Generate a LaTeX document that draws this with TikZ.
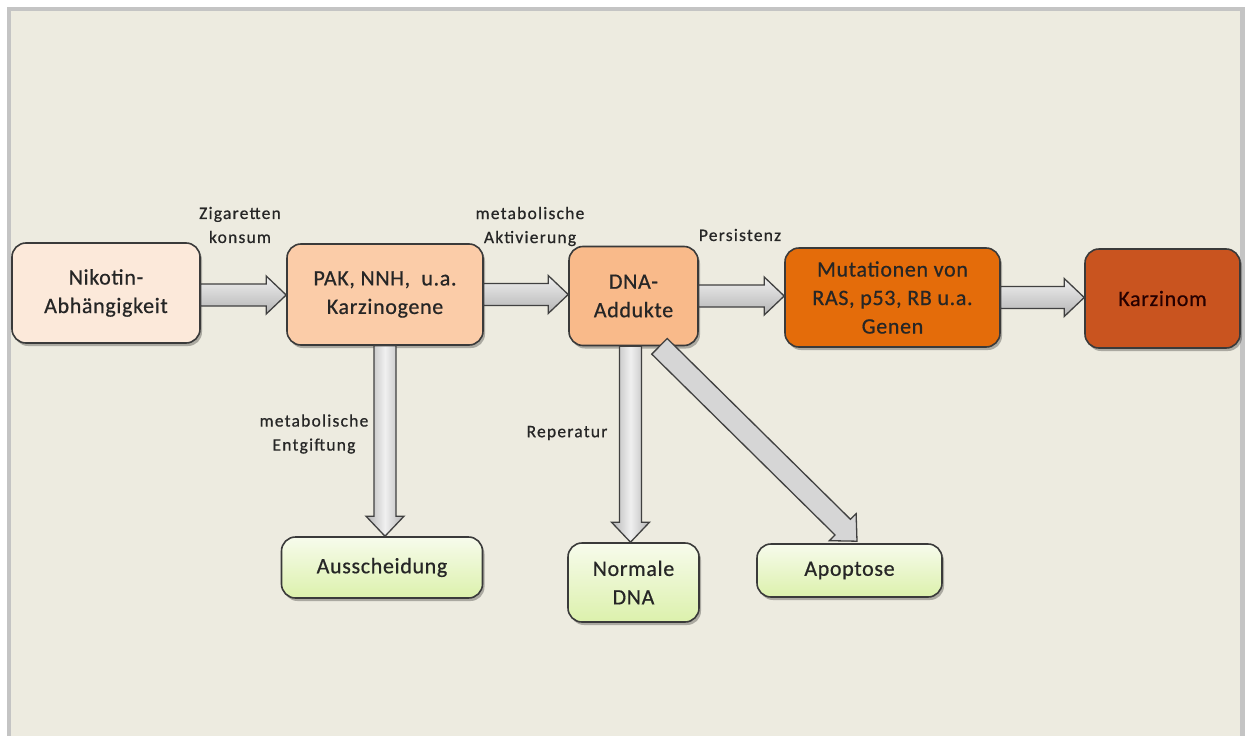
\documentclass[tikz,border=0pt]{standalone}
\usepackage{fontspec}
\setmainfont{Carlito}
\newfontfamily\boxff[LetterSpace=3,FakeBold=0.6]{Carlito}
\newfontfamily\lblff[LetterSpace=7,FakeBold=0.6]{Carlito}
\usetikzlibrary{calc,shadows}
\definecolor{bgc}{HTML}{EDEBE0}
\definecolor{framec}{HTML}{C4C4C4}
\definecolor{linec}{HTML}{3A3A3A}
\definecolor{textc}{HTML}{262626}
\definecolor{c1}{HTML}{FCE9DA}
\definecolor{c2}{HTML}{FBCCA8}
\definecolor{c3}{HTML}{F9BA8A}
\definecolor{c4}{HTML}{E46C0A}
\definecolor{c5}{HTML}{C9541F}
\definecolor{gtop}{HTML}{F7FBEC}
\definecolor{gbot}{HTML}{DCF1AC}
\definecolor{arrline}{HTML}{404040}
\definecolor{alight}{HTML}{F0F0F0}
\definecolor{adark}{HTML}{B4B4B4}
\definecolor{amid}{HTML}{D6D6D6}
\newcommand\boxfont{\boxff\fontsize{22}{28.5}\selectfont}
\newcommand\lblfont{\lblff\fontsize{17.5}{24}\selectfont}
\tikzset{
  box/.style={draw=linec, line width=1.6pt, rounded corners=14pt, align=center,
    font=\boxfont, text=textc, inner sep=0pt,
    drop shadow={shadow xshift=2pt, shadow yshift=-3pt, opacity=0.28, fill=black}},
  greenbox/.style={box, top color=gtop, bottom color=gbot},
  lbl/.style={font=\lblfont, text=textc, align=center, inner sep=0pt},
  fatarr/.style={draw=arrline, line width=1.3pt, line join=miter},
  harr/.style={fatarr, top color=alight, bottom color=adark},
  varr/.style={fatarr, left color=adark, right color=adark, middle color=alight},
  darr/.style={fatarr, fill=amid}
}
\newcommand\fatarrow[3]{%
  \coordinate (fa-h) at ($(#3)!20pt!(#2)$);
  \path[#1] ($(#2)!11pt!90:(#3)$) -- ($(fa-h)!11pt!-90:(#2)$) -- ($(fa-h)!19pt!-90:(#2)$)
    -- (#3) -- ($(fa-h)!19pt!90:(#2)$) -- ($(fa-h)!11pt!90:(#2)$)
    -- ($(#2)!11pt!-90:(#3)$) -- cycle;
}
\begin{document}
\begin{tikzpicture}[x=1pt,y=-1pt]
\useasboundingbox (0,0) rectangle (1245,736);
\fill[white] (0,0) rectangle (1245,736);
\fill[framec] (7,7) rectangle (1245,736);
\fill[bgc] (11,11) rectangle (1240,736);

% boxes
\node[box, fill=c1, minimum width=188pt, minimum height=100pt] (nik) at (106,293) {Nikotin-\\Abhängigkeit};
\node[box, fill=c2, minimum width=196pt, minimum height=101pt] (pak) at (385,294.5) {PAK, NNH,~ u.a.\\Karzinogene};
\node[box, fill=c3, minimum width=129pt, minimum height=99pt] (dna) at (633.5,296) {DNA-\\Addukte};
\node[box, fill=c4, minimum width=215pt, minimum height=99pt] (mut) at (892.5,297.5) {Mutationen von\\RAS, p53, RB u.a.\\Genen};
\node[box, fill=c5, minimum width=155pt, minimum height=99pt, text=black!85!red] (karz) at (1162.5,298.5) {Karzinom};
\node[greenbox, minimum width=201pt, minimum height=61pt] (aus) at (382,567.5) {Ausscheidung};
\node[greenbox, minimum width=131pt, minimum height=79pt] (norm) at (633.5,582.5) {Normale\\DNA};
\node[greenbox, minimum width=185pt, minimum height=53pt] (apo) at (849.5,570.5) {Apoptose};

% arrow end points
\coordinate (a1s) at ($(nik.east)+(0,2)$);
\coordinate (a1e) at (a1s -| pak.west);
\coordinate (a2s) at (pak.east);
\coordinate (a2e) at (a2s -| dna.west);
\coordinate (a3s) at (dna.east);
\coordinate (a3e) at (a3s -| mut.west);
\coordinate (a4s) at (mut.east);
\coordinate (a4e) at (a4s -| karz.west);
\coordinate (a5s) at (pak.south);
\coordinate (a5e) at (a5s |- aus.north);
\coordinate (a6s) at ($(dna.south)+(-3,0)$);
\coordinate (a6e) at (a6s |- norm.north);
\coordinate (a7s) at ($(dna.south)+(26,0)$);
\coordinate (a7e) at ($(apo.north)+(7.5,-2)$);

\fatarrow{harr}{a1s}{a1e}
\fatarrow{harr}{a2s}{a2e}
\fatarrow{harr}{a3s}{a3e}
\fatarrow{harr}{a4s}{a4e}
\fatarrow{varr}{a5s}{a5e}
\fatarrow{varr}{a6s}{a6e}
\fatarrow{darr}{a7s}{a7e}

% labels
\node[lbl] (lzig) at (240,225) {Zigaretten\\konsum};
\node[lbl] (lakt) at (530,226.5) {metabolische\\Aktivierung};
\node[lbl] (lper) at (740,235) {Persistenz};
\node[lbl] (lent) at (314,434) {metabolische\\Entgiftung};
\node[lbl] (lrep) at (567,433) {Reperatur};
\end{tikzpicture}
\end{document}
